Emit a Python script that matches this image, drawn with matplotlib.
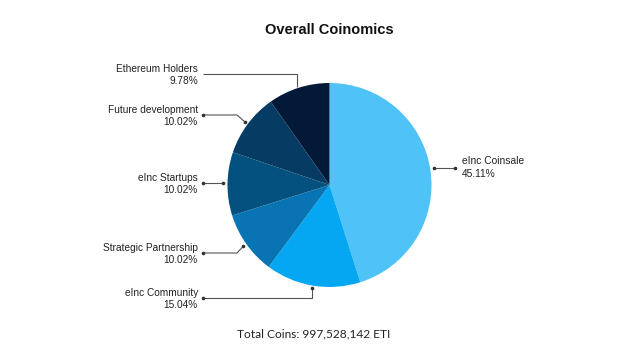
import numpy as np
import matplotlib
matplotlib.use("Agg")
import matplotlib.pyplot as plt

# ---- data ----
categories = ["eInc Coinsale", "eInc Community", "Strategic Partnership",
              "eInc Startups", "Future development", "Ethereum Holders"]
shares = [45.11, 15.04, 10.02, 10.02, 10.02, 9.78]
colors = ["#4FC3F8", "#05A6F2", "#0874B3", "#04517F", "#063B63", "#021A38"]
title = "Overall Coinomics"
footer = "Total Coins: 997,528,142 ETI"

W, H = 627, 353
fig = plt.figure(figsize=(W / 100, H / 100), dpi=100)
ax = fig.add_axes([0, 0, 1, 1])
ax.set_xlim(0, W)
ax.set_ylim(0, H)
ax.set_aspect("equal")
ax.axis("off")

cx, cy, R = 329.5, H - 185, 102
wedges, _ = ax.pie(shares, colors=colors, startangle=90, counterclock=False,
                   center=(cx, cy), radius=R, wedgeprops=dict(linewidth=0))
ax.set_xlim(0, W)
ax.set_ylim(0, H)

# layout of labels (image-pixel y of leader line, label side)
layout = {
    "eInc Coinsale": dict(line_y=168, side="right", style="straight", dots=True),
    "eInc Community": dict(line_y=298, side="left", style="elbow", dots=True),
    "Strategic Partnership": dict(line_y=253, side="left", style="bend", dots=True),
    "eInc Startups": dict(line_y=183, side="left", style="straight", dots=True),
    "Future development": dict(line_y=115, side="left", style="bend", dots=True),
    "Ethereum Holders": dict(line_y=74, side="left", style="elbow", dots=False),
}

txt_font = ["Liberation Sans", "DejaVu Sans"]
lc = "#555555"
for w, cat, val in zip(wedges, categories, shares):
    mid = np.deg2rad((w.theta1 + w.theta2) / 2)
    ax_x = cx + 1.04 * R * np.cos(mid)
    ax_y = cy + 1.04 * R * np.sin(mid)
    L = layout[cat]
    ly = H - L["line_y"]
    if L["side"] == "left":
        x0 = 203
        if L["style"] == "elbow":
            ax_y = cy + 1.0 * R * np.sin(mid) + (1 if np.sin(mid) > 0 else -2)
            xs, ys = [x0, ax_x, ax_x], [ly, ly, ax_y]
        elif L["style"] == "bend":
            xs, ys = [x0, 237, ax_x], [ly, ly, ax_y]
        else:
            xs, ys = [x0, ax_x], [ly, ly]
        ax.plot(xs, ys, color=lc, lw=0.8, solid_capstyle="butt")
        if L["dots"]:
            ax.plot([x0], [ly], "o", color="#333333", ms=1.6)
            ax.plot([xs[-1]], [ys[-1]], "o", color="#333333", ms=1.6)
        ax.text(198, ly + 5, cat, ha="right", va="center", fontsize=7.3,
                color="#222222", family=txt_font)
        ax.text(198, ly - 7, f"{val:.2f}%", ha="right", va="center", fontsize=7.3,
                color="#222222", family=txt_font)
    else:
        x1 = 455
        ax.plot([ax_x, x1], [ly, ly], color=lc, lw=0.8)
        ax.plot([ax_x, x1], [ly, ly], "o", color="#333333", ms=1.6)
        ax.text(462, ly + 7, cat, ha="left", va="center", fontsize=7.4,
                color="#222222", family=txt_font)
        ax.text(462, ly - 6, f"{val:.2f}%", ha="left", va="center", fontsize=7.4,
                color="#222222", family=txt_font)

ax.text(329.5, H - 30, title, ha="center", va="center", fontsize=10.5,
        fontweight="bold", color="#111111", family=txt_font)
ax.text(314, H - 334, footer, ha="center", va="center", fontsize=8.6,
        color="#222222", family=["Lato", "DejaVu Sans"])

fig.savefig("out.png", dpi=100)
